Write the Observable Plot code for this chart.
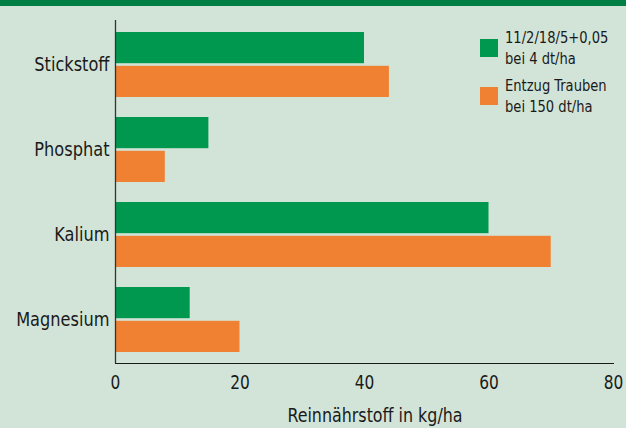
<!DOCTYPE html>
<html>
<head>
<meta charset="utf-8">
<script src="https://cdn.jsdelivr.net/npm/d3@7"></script>
<script src="https://cdn.jsdelivr.net/npm/@observablehq/plot@0.6"></script>
<style>
  html, body { margin: 0; padding: 0; background: #d2e4d8; }
  #wrap { position: relative; width: 626px; height: 428px; overflow: hidden; background: #d2e4d8;
    font-family: "DejaVu Sans Condensed", "Liberation Sans Narrow", sans-serif; color: #1a1a1a; }
  #topbar { position: absolute; left: 0; top: 0; width: 626px; height: 6px; background: #007e43; }
  #legend { position: absolute; left: 480px; top: 27px; font-size: 16px; line-height: 21px; }
  .item { position: relative; padding-left: 25px; margin-bottom: 6px; white-space: nowrap; }
  .item .t { transform: scaleX(0.91); transform-origin: 0 0; }
  .sw { position: absolute; left: 0; top: 12px; width: 18px; height: 18px; }
  #xlabel { position: absolute; left: 375px; top: 406px; font-size: 19px; line-height: 19px; white-space: nowrap;
    transform: translateX(-50%) scaleX(0.93); }
  svg { display: block; }
</style>
</head>
<body>
<div id="wrap">
  <div id="topbar"></div>
  <div id="chart"></div>
  <div id="legend"></div>
  <div id="xlabel"></div>
</div>
<script>
const categories = ["Stickstoff", "Phosphat", "Kalium", "Magnesium"];
const duenger = [40, 15, 60, 12];
const entzug = [44, 8, 70, 20];
const seriesNames = [["11/2/18/5+0,05", "bei 4 dt/ha"], ["Entzug Trauben", "bei 150 dt/ha"]];
const seriesColors = ["#00984f", "#f08133"];
const xTicks = [0, 20, 40, 60, 80];
const xLabel = "Reinnährstoff in kg/ha";

const green = categories.map((c, i) => ({category: c, value: duenger[i]}));
const orange = categories.map((c, i) => ({category: c, value: entzug[i]}));

const font = '"DejaVu Sans Condensed", "Liberation Sans Narrow", sans-serif';

const plot = Plot.plot({
  width: 626,
  height: 428,
  marginTop: 20,
  marginBottom: 65,
  marginLeft: 115,
  marginRight: 13,
  style: {background: "transparent", fontFamily: font, fontSize: "19px", color: "#1a1a1a"},
  x: {domain: [0, 80], ticks: xTicks, tickSize: 0, tickPadding: 12, label: null, line: true},
  y: {domain: categories, paddingInner: 0.241, paddingOuter: 0.1225, tickSize: 0, tickPadding: 6, label: null},
  marks: [
    Plot.barX(green, {x: "value", y: "category", fill: seriesColors[0], insetBottom: 33.8}),
    Plot.barX(orange, {x: "value", y: "category", fill: seriesColors[1], insetTop: 33.8}),
    Plot.ruleX([0], {stroke: "#333", strokeWidth: 1.3})
  ]
});

// condense the axis text (the original uses a narrow typeface)
function condense(sel, sx, size) {
  plot.querySelectorAll(sel).forEach(t => {
    if (size) t.setAttribute("font-size", size);
    const tr = t.getAttribute("transform");
    if (tr) t.setAttribute("transform", tr + ` scale(${sx},1)`);
    else {
      const x = +t.getAttribute("x") || 0, y = +t.getAttribute("y") || 0;
      t.setAttribute("transform", `translate(${x},${y}) scale(${sx},1) translate(${-x},${-y})`);
    }
  });
}
condense("[aria-label='y-axis tick label'] text", 0.9, 20);
condense("[aria-label='x-axis tick label'] text", 0.9, 19);
plot.querySelectorAll("[aria-label='x-axis'] path, [aria-label='x-axis'] line, [aria-label='x-axis tick'] path").forEach(e => {
  e.setAttribute("stroke", "#333"); e.setAttribute("stroke-width", "1.3");
});
document.getElementById("chart").appendChild(plot);

document.getElementById("xlabel").textContent = xLabel;

const legend = document.getElementById("legend");
seriesNames.forEach((lines, i) => {
  const item = document.createElement("div");
  item.className = "item";
  const sw = document.createElement("div");
  sw.className = "sw";
  sw.style.background = seriesColors[i];
  item.appendChild(sw);
  lines.forEach(t => { const d = document.createElement("div"); d.className = "t"; d.textContent = t; item.appendChild(d); });
  legend.appendChild(item);
});
</script>
</body>
</html>
